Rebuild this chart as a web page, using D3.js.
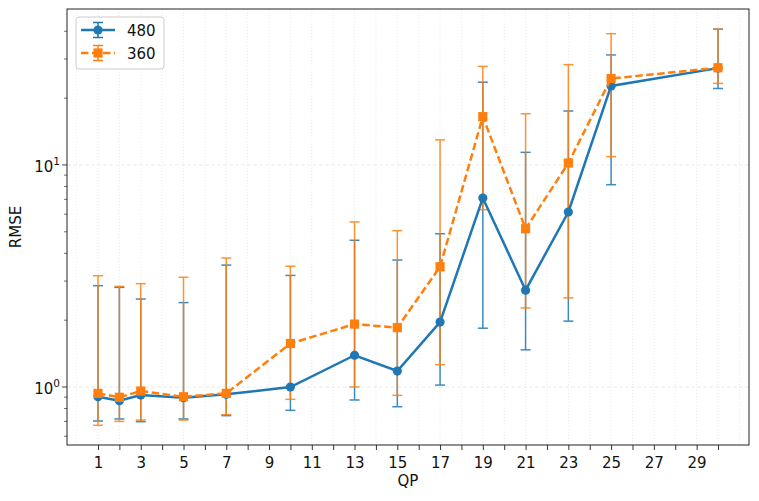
<!DOCTYPE html>
<html>
<head>
<meta charset="utf-8">
<script src="https://cdn.jsdelivr.net/npm/d3@7"></script>
<style>
  body { margin: 0; background: #fff; }
  text { font-family: "DejaVu Sans", sans-serif; }
</style>
</head>
<body>
<svg id="chart" width="759" height="501"></svg>
<script>
// QP values shared by both series
var qp = [1, 2, 3, 5, 7, 10, 13, 15, 17, 19, 21, 23, 25, 30];

// 480 series: mean, lower and upper error ends
var rmse480 = [0.904, 0.868, 0.92, 0.895, 0.927, 1.0, 1.39, 1.18, 1.96, 7.1, 2.73, 6.14, 22.7, 27.3];
var low480  = [0.703, 0.718, 0.698, 0.718, 0.743, 0.785, 0.874, 0.815, 1.02, 1.84, 1.47, 1.98, 8.15, 22.1];
var high480 = [2.86, 2.81, 2.49, 2.40, 3.54, 3.18, 4.58, 3.73, 4.9, 23.6, 11.4, 17.5, 31.3, 40.9];

// 360 series
var rmse360 = [0.936, 0.899, 0.959, 0.904, 0.936, 1.57, 1.92, 1.85, 3.48, 16.5, 5.16, 10.2, 24.5, 27.4];
var low360  = [0.672, 0.70, 0.71, 0.71, 0.75, 0.88, 1.0, 0.917, 1.26, 6.29, 2.27, 2.52, 10.9, 23.3];
var high360 = [3.17, 2.84, 2.92, 3.12, 3.81, 3.5, 5.54, 5.06, 12.97, 27.8, 17.0, 28.3, 39.0, 40.9];

var xTicks = [1, 3, 5, 7, 9, 11, 13, 15, 17, 19, 21, 23, 25, 27, 29];

var margin = {left: 67, right: 10, top: 9, bottom: 56};
var W = 759, H = 501;

var svg = d3.select("#chart");

var x = d3.scaleLinear().domain([-0.45, 31.45]).range([margin.left, W - margin.right]);
var y = d3.scaleLog().domain([0.548, 50.4]).range([H - margin.bottom, margin.top]);

var g = svg.append("g");

// grid: dotted vertical lines at each integer QP
var gridX = d3.range(0, 32);
g.selectAll(".vgrid").data(gridX).enter().append("line")
  .attr("x1", d => x(d)).attr("x2", d => x(d))
  .attr("y1", y.range()[1]).attr("y2", y.range()[0])
  .attr("stroke", "#e4e4e4").attr("stroke-width", 0.8)
  .attr("stroke-dasharray", "1,2");

// grid: dashed horizontal lines at decades
g.selectAll(".hgrid").data([1, 10]).enter().append("line")
  .attr("x1", x.range()[0]).attr("x2", x.range()[1])
  .attr("y1", d => y(d)).attr("y2", d => y(d))
  .attr("stroke", "#e6e6e6").attr("stroke-width", 0.8)
  .attr("stroke-dasharray", "4,2");

// x axis
var xAxis = d3.axisBottom(x).tickValues(d3.range(1, 31)).tickSize(5)
  .tickFormat(d => xTicks.indexOf(d) >= 0 ? d : "");
var xg = svg.append("g").attr("transform", "translate(0," + (H - margin.bottom) + ")").call(xAxis);
xg.select(".domain").remove();
xg.selectAll("line").attr("stroke", "#333");
xg.selectAll("text").attr("font-size", 15).attr("fill", "#111").attr("y", 10).attr("dy", "0.85em");

// y axis: major and minor ticks
var minor = [0.6, 0.7, 0.8, 0.9, 2, 3, 4, 5, 6, 7, 8, 9, 20, 30, 40];
var yg = svg.append("g").attr("transform", "translate(" + margin.left + ",0)");
yg.selectAll(".minor").data(minor).enter().append("line")
  .attr("x1", -3).attr("x2", 0).attr("y1", d => y(d)).attr("y2", d => y(d))
  .attr("stroke", "#333").attr("stroke-width", 0.7);
yg.selectAll(".major").data([1, 10]).enter().append("line")
  .attr("x1", -5).attr("x2", 0).attr("y1", d => y(d)).attr("y2", d => y(d))
  .attr("stroke", "#333").attr("stroke-width", 0.9);
var yl = yg.selectAll(".ylab").data([0, 1]).enter().append("text")
  .attr("x", -7).attr("y", d => y(Math.pow(10, d)) + 7)
  .attr("text-anchor", "end").attr("font-size", 15).attr("fill", "#111");
yl.append("tspan").text("10");
yl.append("tspan").attr("dy", -7).attr("font-size", 10.5).text(d => d);

// frame
svg.append("rect")
  .attr("x", margin.left).attr("y", margin.top)
  .attr("width", W - margin.left - margin.right).attr("height", H - margin.top - margin.bottom)
  .attr("fill", "none").attr("stroke", "#222").attr("stroke-width", 1);

// axis titles
svg.append("text").attr("x", (x.range()[0] + x.range()[1]) / 2).attr("y", 486)
  .attr("text-anchor", "middle").attr("font-size", 15).attr("fill", "#111").text("QP");
svg.append("text").attr("transform", "translate(21," + ((y.range()[0] + y.range()[1]) / 2) + ") rotate(-90)")
  .attr("text-anchor", "middle").attr("font-size", 15).attr("fill", "#111").text("RMSE");

var series = [
  {name: "480", color: "#1f77b4", mean: rmse480, low: low480, high: high480, dash: null, marker: "circle"},
  {name: "360", color: "#ff7f0e", mean: rmse360, low: low360, high: high360, dash: "7.5,3.5", marker: "square"}
];

// error bars first
series.forEach(function(s) {
  var eb = g.append("g").attr("stroke", s.color).attr("stroke-width", 1.5).attr("opacity", 0.85);
  qp.forEach(function(q, i) {
    eb.append("line").attr("x1", x(q)).attr("x2", x(q)).attr("y1", y(s.low[i])).attr("y2", y(s.high[i]));
    eb.append("line").attr("x1", x(q) - 5).attr("x2", x(q) + 5).attr("y1", y(s.low[i])).attr("y2", y(s.low[i]));
    eb.append("line").attr("x1", x(q) - 5).attr("x2", x(q) + 5).attr("y1", y(s.high[i])).attr("y2", y(s.high[i]));
  });
});

// lines and markers
var line = d3.line().x(d => x(d[0])).y(d => y(d[1]));
series.forEach(function(s) {
  var pts = qp.map((q, i) => [q, s.mean[i]]);
  g.append("path").datum(pts).attr("d", line)
    .attr("fill", "none").attr("stroke", s.color).attr("stroke-width", 2.5)
    .attr("stroke-dasharray", s.dash);
  if (s.marker === "circle") {
    g.selectAll(null).data(pts).enter().append("circle")
      .attr("cx", d => x(d[0])).attr("cy", d => y(d[1])).attr("r", 4.6).attr("fill", s.color);
  } else {
    g.selectAll(null).data(pts).enter().append("rect")
      .attr("x", d => x(d[0]) - 4.6).attr("y", d => y(d[1]) - 4.6)
      .attr("width", 9.2).attr("height", 9.2).attr("fill", s.color);
  }
});

// legend
var lg = svg.append("g").attr("transform", "translate(76,17)");
lg.append("rect").attr("width", 88).attr("height", 52).attr("rx", 3)
  .attr("fill", "#fff").attr("fill-opacity", 0.8).attr("stroke", "#ccc");
series.forEach(function(s, i) {
  var cy = 13 + i * 23, cx = 22;
  var e = lg.append("g");
  e.append("line").attr("x1", cx - 17).attr("x2", cx + 17).attr("y1", cy).attr("y2", cy)
    .attr("stroke", s.color).attr("stroke-width", 2.5).attr("stroke-dasharray", s.dash);
  e.append("line").attr("x1", cx).attr("x2", cx).attr("y1", cy - 7.5).attr("y2", cy + 7.5)
    .attr("stroke", s.color).attr("stroke-width", 1.5);
  e.append("line").attr("x1", cx - 5).attr("x2", cx + 5).attr("y1", cy - 7.5).attr("y2", cy - 7.5)
    .attr("stroke", s.color).attr("stroke-width", 1.5);
  e.append("line").attr("x1", cx - 5).attr("x2", cx + 5).attr("y1", cy + 7.5).attr("y2", cy + 7.5)
    .attr("stroke", s.color).attr("stroke-width", 1.5);
  if (s.marker === "circle") {
    e.append("circle").attr("cx", cx).attr("cy", cy).attr("r", 4.6).attr("fill", s.color);
  } else {
    e.append("rect").attr("x", cx - 4.6).attr("y", cy - 4.6).attr("width", 9.2).attr("height", 9.2).attr("fill", s.color);
  }
  e.append("text").attr("x", 51).attr("y", cy + 5.5).attr("font-size", 15).attr("fill", "#111").text(s.name);
});
</script>
</body>
</html>
